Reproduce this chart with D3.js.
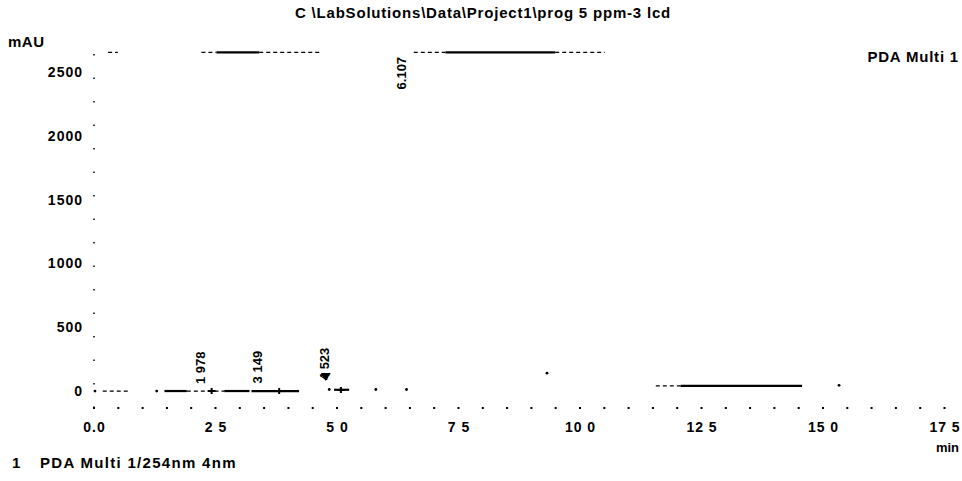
<!DOCTYPE html>
<html>
<head>
<meta charset="utf-8">
<script src="https://cdn.jsdelivr.net/npm/d3@7/dist/d3.min.js"></script>
<style>
  html, body { margin: 0; padding: 0; background: #fff; }
  svg { display: block; }
  text { font-family: "Liberation Sans", Arial, sans-serif; fill: #000; }
</style>
</head>
<body>
<svg id="chart" width="962" height="481"></svg>
<script>
// ---- data ----
const titleText = "C \\LabSolutions\\Data\\Project1\\prog 5 ppm-3 lcd";
const yUnit = "mAU";
const xUnit = "min";
const channelName = "PDA Multi 1";
const legendNumber = "1";
const legendText = "PDA Multi 1/254nm 4nm";

const yTicks = [0, 500, 1000, 1500, 2000, 2500];
const xTicks = [0, 2.5, 5, 7.5, 10, 12.5, 15, 17.5];
const xTickLabels = ["0.0", "2 5", "5 0", "7 5", "10 0", "12 5", "15 0", "17 5"];

// peak retention times and their labels
const peakTimes = [1.978, 3.149, 4.523, 6.107];
const peakLabels = ["1 978", "3 149", "4 523", "6.107"];
const peakLabelLevels = [55, 60, 85, 2365];   // mAU where each label starts

// visible pieces of the (faded) trace: [start min, end min, mAU]
const solidRuns = [
  [1.45, 1.91, 0], [2.68, 3.20, 0], [3.24, 4.22, 0], [4.94, 5.25, 10],
  [2.52, 3.40, 2655], [7.23, 9.49, 2655], [12.07, 14.57, 40]
];
const brokenRuns = [
  [0.18, 0.74, 0], [1.91, 2.34, 0], [2.48, 2.68, 0],
  [0.29, 0.49, 2655], [2.21, 2.52, 2655], [3.40, 4.69, 2655],
  [6.58, 7.23, 2655], [9.49, 10.51, 2655], [11.56, 12.07, 40]
];
const tracePoints = [
  [0.02, 0], [1.29, 0], [4.84, 12], [5.80, 12], [6.43, 12], [15.33, 45], [9.32, 140]
];
const peakMarks = [[2.42, 0], [3.81, 0], [5.08, 8]];
const apexMarks = [[4.77, 110]];

// ---- drawing ----
const svg = d3.select("#chart");
const x = d3.scaleLinear().domain([0, 17.5]).range([94, 944.5]);
const y = d3.scaleLinear().domain([-133, 2690]).range([408, 48]);

// title
svg.append("text").attr("x", 483).attr("y", 18)
  .attr("text-anchor", "middle").attr("font-size", 15).attr("font-weight", "bold")
  .attr("letter-spacing", 0.8)
  .text(titleText);

svg.append("text").attr("x", 8).attr("y", 47)
  .attr("font-size", 15).attr("font-weight", "bold").attr("letter-spacing", 0.5).text(yUnit);
svg.append("text").attr("x", 959).attr("y", 62).attr("text-anchor", "end")
  .attr("font-size", 15).attr("font-weight", "bold").attr("letter-spacing", 0.8).text(channelName);

// faded axes
svg.append("line").attr("x1", x(0)).attr("x2", x(0))
  .attr("y1", y.range()[0]).attr("y2", y.range()[1])
  .attr("stroke", "#000").attr("stroke-width", 1.5).attr("stroke-dasharray", "1.5,22");
const minor = d3.range(0, 17.51, 0.5);
svg.append("g").selectAll("rect").data(minor).join("rect")
  .attr("x", d => x(d) - 1).attr("y", y.range()[0] - 1)
  .attr("width", 2).attr("height", 2).attr("fill", "#000");

// y axis labels
const yAxis = d3.axisLeft(y).tickValues(yTicks).tickSize(0).tickPadding(11)
  .tickFormat(d3.format("d"));
const gy = svg.append("g").attr("transform", `translate(${x(0)},0)`).call(yAxis);
gy.select(".domain").remove();
gy.selectAll("text").attr("font-size", 14).attr("font-weight", "bold")
  .attr("letter-spacing", 1).attr("font-family", "Liberation Sans, Arial, sans-serif");

// x axis labels
const xAxis = d3.axisBottom(x).tickValues(xTicks).tickSize(0).tickPadding(14)
  .tickFormat((d, i) => xTickLabels[i]);
const gx = svg.append("g").attr("transform", `translate(0,${y.range()[0]})`).call(xAxis);
gx.select(".domain").remove();
gx.selectAll("text").attr("font-size", 14).attr("font-weight", "bold")
  .attr("letter-spacing", 1).attr("font-family", "Liberation Sans, Arial, sans-serif");

svg.append("text").attr("x", 959).attr("y", 452).attr("text-anchor", "end")
  .attr("font-size", 13).attr("font-weight", "bold").text(xUnit);

// trace
const tr = svg.append("g");
tr.selectAll("line.solid").data(solidRuns).join("line").attr("class", "solid")
  .attr("x1", d => x(d[0])).attr("x2", d => x(d[1]))
  .attr("y1", d => y(d[2])).attr("y2", d => y(d[2]))
  .attr("stroke", "#000").attr("stroke-width", 2.2);
tr.selectAll("line.broken").data(brokenRuns).join("line").attr("class", "broken")
  .attr("x1", d => x(d[0])).attr("x2", d => x(d[1]))
  .attr("y1", d => y(d[2])).attr("y2", d => y(d[2]))
  .attr("stroke", "#000").attr("stroke-width", 1.3).attr("stroke-dasharray", "4,3");
tr.selectAll("circle").data(tracePoints).join("circle")
  .attr("cx", d => x(d[0])).attr("cy", d => y(d[1])).attr("r", 1.4).attr("fill", "#000");
tr.selectAll("path.cross").data(peakMarks).join("path").attr("class", "cross")
  .attr("d", d => `M${x(d[0]) - 4},${y(d[1])}H${x(d[0]) + 4}M${x(d[0])},${y(d[1]) - 3}V${y(d[1]) + 3}`)
  .attr("stroke", "#000").attr("stroke-width", 2);
tr.selectAll("path.apex").data(apexMarks).join("path").attr("class", "apex")
  .attr("d", d => `M${x(d[0]) - 5},${y(d[1]) - 4}H${x(d[0]) + 5}L${x(d[0])},${y(d[1]) + 4}Z`)
  .attr("fill", "#000");

// peak labels (rotated)
svg.append("g").selectAll("text").data(peakTimes).join("text")
  .attr("transform", (d, i) => `translate(${x(d) + 15},${y(peakLabelLevels[i])}) rotate(-90)`)
  .attr("font-size", 13).attr("font-weight", "bold")
  .text((d, i) => peakLabels[i]);

// legend
svg.append("text").attr("x", 12).attr("y", 468)
  .attr("font-size", 15).attr("font-weight", "bold").text(legendNumber);
svg.append("text").attr("x", 40).attr("y", 468)
  .attr("font-size", 15).attr("font-weight", "bold").attr("letter-spacing", 1.3).text(legendText);
</script>
</body>
</html>
